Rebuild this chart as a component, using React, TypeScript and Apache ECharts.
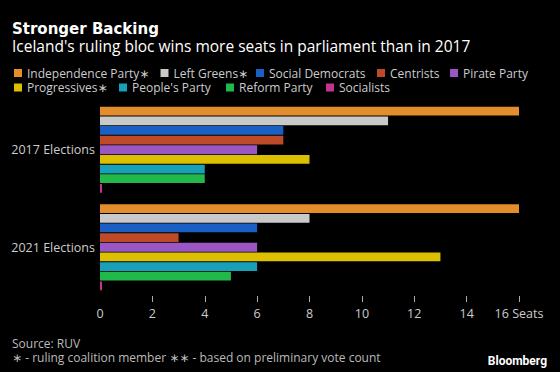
import React, { useEffect, useRef } from "react";
import * as echarts from "echarts";

const categories = ["2017 Elections", "2021 Elections"];
const parties = [
  "Independence Party∗",
  "Left Greens∗",
  "Social Democrats",
  "Centrists",
  "Pirate Party",
  "Progressives∗",
  "People's Party",
  "Reform Party",
  "Socialists",
];
const seats2017 = [16, 11, 7, 7, 6, 8, 4, 4, 0];
const seats2021 = [16, 8, 6, 3, 6, 13, 6, 5, 0];
const colors = [
  "#e38d2c",
  "#c9c9c9",
  "#1a5fc4",
  "#bf4a28",
  "#9a57c4",
  "#dcbf00",
  "#17a0b8",
  "#22b84a",
  "#c2348f",
];
const xTicks = [0, 2, 4, 6, 8, 10, 12, 14, 16];

// legend layout (left x, top y) per item
const legendLeft = [14, 160.5, 256, 377, 450, 14, 119, 226, 326];
const legendTop = [67, 67, 67, 67, 67, 81.5, 81.5, 81.5, 81.5];

const FONT = "'Open Sans', 'DejaVu Sans', sans-serif";
const TITLE_FONT = "'DejaVu Sans', sans-serif";

export default function App() {
  const ref = useRef<HTMLDivElement>(null);
  useEffect(() => {
    document.body.style.margin = "0";
    if (!ref.current) return;
    const chart = echarts.init(ref.current, null, { renderer: "svg" });
    const series = parties.map((p, i) => ({
      name: p,
      type: "bar",
      data: [seats2017[i], seats2021[i]],
      itemStyle: { color: colors[i] },
      barCategoryGap: "12%",
      barGap: "10%",
      barMinHeight: i === parties.length - 1 ? 2 : 0,
    }));
    const legends = parties.map((p, i) => ({
      icon: "rect",
      itemWidth: 8,
      itemHeight: 8,
      padding: 0,
      left: legendLeft[i],
      top: legendTop[i],
      data: [p],
      textStyle: { color: "#cccccc", fontSize: 12, lineHeight: 12, fontFamily: FONT },
    }));
    chart.setOption({
      animation: false,
      backgroundColor: "#000000",
      textStyle: { fontFamily: FONT },
      legend: legends,
      grid: { left: 100, right: 41, top: 101, bottom: 76 },
      xAxis: {
        type: "value",
        min: 0,
        max: 16,
        interval: 2,
        splitLine: { show: false },
        axisLine: { show: false },
        axisTick: {
          show: true,
          length: 6,
          lineStyle: { color: "#aaaaaa" },
          customValues: xTicks.slice(1),
        },
        axisLabel: {
          color: "#cccccc",
          fontSize: 12.5,
          margin: 11,
          formatter: (v: number) => (v === 16 ? "16 Seats" : String(v)),
        },
      },
      yAxis: {
        type: "category",
        inverse: true,
        data: categories,
        axisLine: { show: false },
        axisTick: { show: false },
        axisLabel: { color: "#cccccc", fontSize: 12.5, margin: 5 },
      },
      series,
      graphic: [
        {
          type: "text",
          x: 12,
          y: 28.5,
          style: {
            text: "Stronger Backing",
            fill: "#ffffff",
            font: `bold 15px ${TITLE_FONT}`,
            verticalAlign: "middle",
          },
        },
        {
          type: "text",
          x: 12,
          y: 45.5,
          style: {
            text: "Iceland's ruling bloc wins more seats in parliament than in 2017",
            fill: "#ffffff",
            font: `15.5px ${FONT}`,
            verticalAlign: "middle",
          },
        },
        {
          type: "text",
          x: 12,
          y: 343,
          style: {
            text: "Source: RUV",
            fill: "#bbbbbb",
            font: `12px ${FONT}`,
            lineHeight: 12,
            verticalAlign: "middle",
          },
        },
        {
          type: "text",
          x: 12,
          y: 357,
          style: {
            text: "∗ - ruling coalition member ∗∗ - based on preliminary vote count",
            fill: "#bbbbbb",
            font: `12px ${FONT}`,
            lineHeight: 12,
            verticalAlign: "middle",
          },
        },
        {
          type: "text",
          x: 547,
          y: 361,
          style: {
            text: "Bloomberg",
            fill: "#ffffff",
            font: `bold 12px Roboto, sans-serif`,
            align: "right",
            verticalAlign: "middle",
          },
        },
      ],
    });
    return () => chart.dispose();
  }, []);
  return <div ref={ref} style={{ width: 560, height: 372 }} />;
}
